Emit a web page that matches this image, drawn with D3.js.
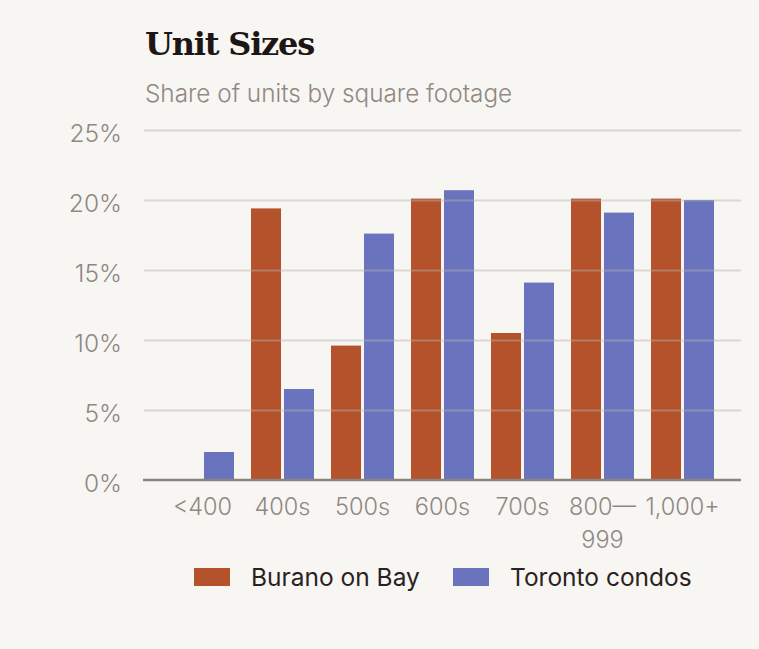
<!DOCTYPE html>
<html><head><meta charset="utf-8">
<script src="https://cdn.jsdelivr.net/npm/d3@7"></script>
<style>
html,body{margin:0;padding:0;background:#f7f6f2;}
svg{display:block;}
</style></head>
<body>
<svg id="chart" width="759" height="649"></svg>
<script>
const categories = ["<400", "400s", "500s", "600s", "700s", "800—999", "1,000+"];
const categoryLines = [["<400"], ["400s"], ["500s"], ["600s"], ["700s"], ["800—", "999"], ["1,000+"]];
const seriesNames = ["Burano on Bay", "Toronto condos"];
const buranoValues = [0, 19.4, 9.6, 20.1, 10.5, 20.1, 20.1];
const torontoValues = [2.0, 6.5, 17.6, 20.7, 14.1, 19.1, 20.0];
const yTicks = [0, 5, 10, 15, 20, 25];
const colors = ["#b3522b", "#6a73bd"];

const svg = d3.select("#chart");
const W = 759, H = 649;
svg.append("rect").attr("width", W).attr("height", H).attr("fill", "#f7f6f2");

const mLeft = 144, mRight = 741, mTop = 130, mBottom = 480;
const sans = "Inter, 'Open Sans', sans-serif";

const x = d3.scaleBand().domain(categories).range([mLeft, mRight]).paddingInner(0.2125).paddingOuter(0.3375);
const xs = d3.scaleBand().domain(seriesNames).range([0, x.bandwidth()]).paddingInner(0.09);
const y = d3.scaleLinear().domain([0, 25]).range([mBottom, mTop]);

svg.append("text").attr("x", 145).attr("y", 55).text("Unit Sizes")
  .attr("font-family", "'DejaVu Serif', serif").attr("font-weight", "bold").attr("font-size", 32)
  .attr("fill", "#1e1614").attr("letter-spacing", -1.2);
svg.append("text").attr("x", 145).attr("y", 101.5).text("Share of units by square footage")
  .attr("font-family", sans).attr("font-size", 24.3).attr("font-weight", 300).attr("fill", "#8f8883");

const data = categories.map((c, i) => ({c, vals: [buranoValues[i], torontoValues[i]]}));
const g = svg.append("g").selectAll("g").data(data).join("g").attr("transform", d => `translate(${x(d.c)},0)`);
g.selectAll("rect").data(d => d.vals.map((v, j) => ({v, s: seriesNames[j], j})).filter(e => e.v > 0))
  .join("rect")
  .attr("x", e => xs(e.s)).attr("width", xs.bandwidth())
  .attr("y", e => y(e.v)).attr("height", e => y(0) - y(e.v))
  .attr("fill", e => colors[e.j]);

// grid (drawn above bars)
const yAxis = d3.axisLeft(y).tickValues(yTicks).tickFormat(d => d + "%").tickSize(-(mRight - mLeft)).tickPadding(22);
const ya = svg.append("g").attr("transform", `translate(${mLeft},0)`).call(yAxis);
ya.select(".domain").remove();
ya.selectAll(".tick line").attr("stroke", "#b9b4ad").attr("stroke-opacity", 0.45).attr("stroke-width", 2);
ya.selectAll(".tick").filter(d => d === 0).select("line").remove();
ya.selectAll(".tick text").attr("font-family", sans).attr("font-size", 24.5).attr("font-weight", 300)
  .attr("fill", "#8f8883").attr("dy", "0.48em");

// baseline
svg.append("line").attr("x1", mLeft - 1).attr("x2", mRight).attr("y1", y(0)).attr("y2", y(0))
  .attr("stroke", "#8a847f").attr("stroke-width", 2.5);

// x labels
const xAxis = d3.axisBottom(x).tickSize(0).tickFormat("");
const xa = svg.append("g").attr("transform", `translate(0,${mBottom})`).call(xAxis);
xa.select(".domain").remove();
xa.selectAll(".tick").each(function(d, i) {
  const t = d3.select(this).append("text").attr("fill", "#8f8883").attr("font-family", sans)
    .attr("font-size", 23.5).attr("font-weight", 300).attr("text-anchor", "middle");
  categoryLines[i].forEach((ln, k) => t.append("tspan").attr("x", 0).attr("y", 35 + k * 33).text(ln));
});

// legend
const legend = svg.append("g");
const legX = [194, 453];
seriesNames.forEach((s, i) => {
  legend.append("rect").attr("x", legX[i]).attr("y", 568).attr("width", 36).attr("height", 18).attr("fill", colors[i]);
  legend.append("text").attr("x", legX[i] + 57).attr("y", 586).text(s)
    .attr("font-family", sans).attr("font-size", 24.5).attr("font-weight", 400).attr("fill", "#2a2220");
});
</script>
</body></html>
